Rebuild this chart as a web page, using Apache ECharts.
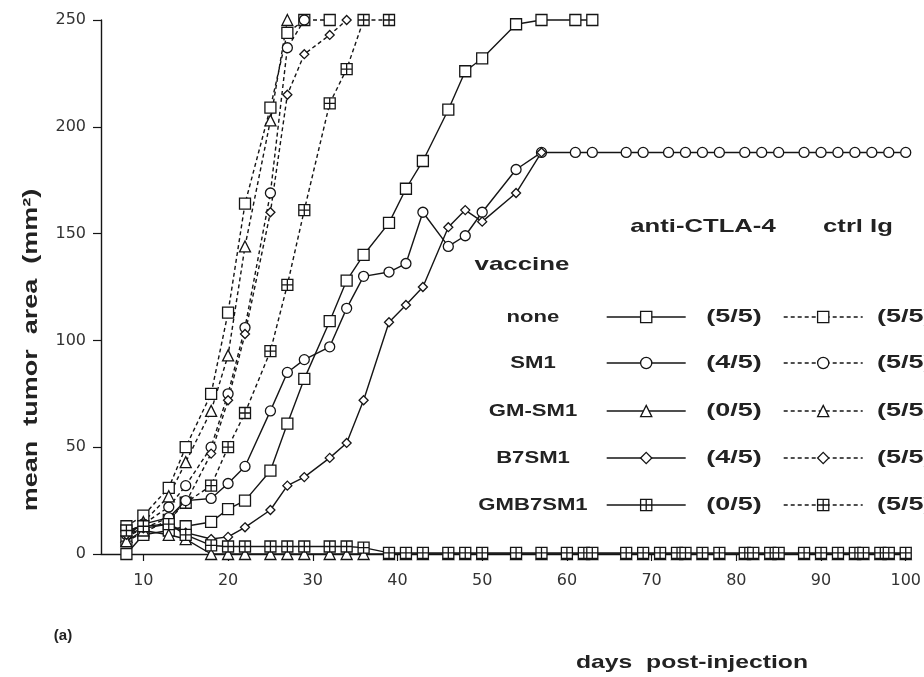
<!DOCTYPE html>
<html><head><meta charset="utf-8">
<script src="https://cdn.jsdelivr.net/npm/echarts@6/dist/echarts.min.js"></script>
<style>html,body{margin:0;padding:0;background:#fff}#c{width:924px;height:677px}</style>
</head><body><div id="c"></div>
<script>
// ---------- data ----------
const vaccines = ['none', 'SM1', 'GM-SM1', 'B7SM1', 'GMB7SM1'];
const antiFractions = ['(5/5)', '(4/5)', '(0/5)', '(4/5)', '(0/5)'];
const ctrlFractions = ['(5/5)', '(5/5)', '(5/5)', '(5/5)', '(5/5)'];
const xTickValues = [10, 20, 30, 40, 50, 60, 70, 80, 90, 100];

// ctrl Ig (dashed)
const ctrlNoneDays = [8, 10, 13, 15, 18, 20, 22, 25, 27, 29, 32];
const ctrlNoneVals = [13, 18, 31, 50, 75, 113, 164, 209, 244, 250, 250];
const ctrlSM1Days = [8, 10, 13, 15, 18, 20, 22, 25, 27, 29];
const ctrlSM1Vals = [10, 14, 22, 32, 50, 75, 106, 169, 237, 250];
const ctrlGMDays = [8, 10, 13, 15, 18, 20, 22, 25, 27];
const ctrlGMVals = [8, 15, 27, 43, 67, 93, 144, 203, 250];
const ctrlB7Days = [8, 10, 13, 15, 18, 20, 22, 25, 27, 29, 32, 34];
const ctrlB7Vals = [8, 12, 17, 24, 47, 72, 103, 160, 215, 234, 243, 250];
const ctrlGMB7Days = [8, 10, 13, 15, 18, 20, 22, 25, 27, 29, 32, 34, 36, 39];
const ctrlGMB7Vals = [6, 10, 16, 24, 32, 50, 66, 95, 126, 161, 211, 227, 250, 250];

// anti-CTLA-4 (solid)
const antiNoneDays = [8, 10, 13, 15, 18, 20, 22, 25, 27, 29, 32, 34, 36, 39, 41, 43, 46, 48, 50, 54, 57, 61, 63];
const antiNoneVals = [0, 9, 11, 13, 15, 21, 25, 39, 61, 82, 109, 128, 140, 155, 171, 184, 208, 226, 232, 248, 250, 250, 250];
const antiSM1Days = [8, 10, 13, 15, 18, 20, 22, 25, 27, 29, 32, 34, 36, 39, 41, 43, 46, 48, 50, 54, 57, 61, 63, 67, 69, 72, 74, 76, 78, 81, 83, 85, 88, 90, 92, 94, 96, 98, 100];
const antiSM1Vals = [9, 14, 17, 25, 26, 33, 41, 67, 85, 91, 97, 115, 130, 132, 136, 160, 144, 149, 160, 180, 188, 188, 188, 188, 188, 188, 188, 188, 188, 188, 188, 188, 188, 188, 188, 188, 188, 188, 188];
const antiGMDays = [8, 10, 13, 15, 18, 20, 22, 25, 27, 29, 32, 34, 36, 39, 41, 43, 46, 48, 50, 54, 57, 60, 62, 63, 67, 69, 71, 73, 74, 76, 78, 81, 82, 84, 85, 88, 90, 92, 94, 95, 97, 98, 100];
const antiGMVals = [6, 11, 9, 7, 0, 0, 0, 0, 0, 0, 0, 0, 0, 0, 0, 0, 0, 0, 0, 0, 0, 0, 0, 0, 0, 0, 0, 0, 0, 0, 0, 0, 0, 0, 0, 0, 0, 0, 0, 0, 0, 0, 0];
const antiB7Days = [8, 10, 13, 15, 18, 20, 22, 25, 27, 29, 32, 34, 36, 39, 41, 43, 46, 48, 50, 54, 57];
const antiB7Vals = [9, 12, 14, 10, 7, 8, 12.5, 20.6, 32, 36, 45, 52, 72, 108.5, 116.6, 125, 153, 161, 155.6, 169, 188];
const antiGMB7Days = [8, 10, 13, 15, 18, 20, 22, 25, 27, 29, 32, 34, 36, 39, 41, 43, 46, 48, 50, 54, 57, 60, 62, 63, 67, 69, 71, 73, 74, 76, 78, 81, 82, 84, 85, 88, 90, 92, 94, 95, 97, 98, 100];
const antiGMB7Vals = [11, 13, 14, 9, 4, 3.5, 3.5, 3.5, 3.5, 3.5, 3.5, 3.5, 3, 0.5, 0.5, 0.5, 0.5, 0.5, 0.5, 0.5, 0.5, 0.5, 0.5, 0.5, 0.5, 0.5, 0.5, 0.5, 0.5, 0.5, 0.5, 0.5, 0.5, 0.5, 0.5, 0.5, 0.5, 0.5, 0.5, 0.5, 0.5, 0.5, 0.5];

// ---------- build ----------
const zip = (d, v) => d.map((x, i) => [x, v[i]]);
const GRID_SYM = 'path://M0,0H10V10H0Z M5,0V10 M0,5H10';
const symbols = ['rect', 'circle', 'triangle', 'diamond', GRID_SYM];
const symSizes = [11, 10, 11, 9, 11];
const INK = '#151515';
const DASH = [4, 3];

const antiData = [zip(antiNoneDays, antiNoneVals), zip(antiSM1Days, antiSM1Vals), zip(antiGMDays, antiGMVals), zip(antiB7Days, antiB7Vals), zip(antiGMB7Days, antiGMB7Vals)];
const ctrlData = [zip(ctrlNoneDays, ctrlNoneVals), zip(ctrlSM1Days, ctrlSM1Vals), zip(ctrlGMDays, ctrlGMVals), zip(ctrlB7Days, ctrlB7Vals), zip(ctrlGMB7Days, ctrlGMB7Vals)];

const series = [];
const legends = [];
const rowY = [317, 363, 411, 458, 505];
const graphics = [];
const boldFont = (s) => 'bold ' + s + 'px "Liberation Sans", Arial, sans-serif';

vaccines.forEach((v, i) => {
  [['anti-CTLA-4', antiData[i], 'solid', 606, antiFractions[i], 734, 'center'],
   ['ctrl Ig', ctrlData[i], DASH, 783, ctrlFractions[i], 877, 'left']].forEach(([grp, data, type, lx, frac, fx, fa]) => {
    const name = v + ' / ' + grp;
    series.push({
      name, type: 'line', data, clip: false,
      symbol: symbols[i], symbolSize: symSizes[i], showAllSymbol: true,
      lineStyle: { color: INK, width: 1.4, type },
      itemStyle: { color: '#fff', borderColor: INK, borderWidth: 1.3 },
      z: type === 'solid' ? 3 : 2
    });
    legends.push({
      data: [name], left: lx, top: rowY[i] - 7, padding: 0,
      itemWidth: 79, itemHeight: 14, selectedMode: false,
      formatter: () => '',
      lineStyle: { color: INK, width: 1.4, type },
      itemStyle: { color: '#fff', borderColor: INK, borderWidth: 1.3 }
    });
    graphics.push({ type: 'text', x: fx, y: rowY[i], scaleX: 1.5,
      style: { text: frac, font: boldFont(18), fill: '#222', textAlign: fa, textVerticalAlign: 'middle' } });
  });
  graphics.push({ type: 'text', x: 533, y: rowY[i], scaleX: 1.3,
    style: { text: v, font: boldFont(17), fill: '#222', textAlign: 'center', textVerticalAlign: 'middle' } });
});

graphics.push(
  { type: 'text', x: 703, y: 227, scaleX: 1.35, style: { text: 'anti-CTLA-4', font: boldFont(19), fill: '#222', textAlign: 'center', textVerticalAlign: 'middle' } },
  { type: 'text', x: 858, y: 227, scaleX: 1.35, style: { text: 'ctrl Ig', font: boldFont(19), fill: '#222', textAlign: 'center', textVerticalAlign: 'middle' } },
  { type: 'text', x: 522, y: 265, scaleX: 1.36, style: { text: 'vaccine', font: boldFont(19), fill: '#222', textAlign: 'center', textVerticalAlign: 'middle' } },
  { type: 'text', x: 692, y: 663, scaleX: 1.3, style: { text: 'days  post-injection', font: boldFont(19), fill: '#222', textAlign: 'center', textVerticalAlign: 'middle' } },
  { type: 'text', x: 63, y: 636, style: { text: '(a)', font: boldFont(15), fill: '#222', textAlign: 'center', textVerticalAlign: 'middle' } },
  { type: 'text', x: 31, y: 350, rotation: Math.PI / 2, scaleX: 1.35, style: { text: 'mean  tumor  area  (mm²)', font: boldFont(20), fill: '#222', textAlign: 'center', textVerticalAlign: 'middle' } }
);

const chart = echarts.init(document.getElementById('c'), null, { renderer: 'canvas' });
chart.setOption({
  animation: false,
  backgroundColor: '#fff',
  grid: { left: 101, right: 14, top: 20, bottom: 123 },
  xAxis: {
    type: 'value', min: 5, max: 100,
    axisLine: { onZero: false, lineStyle: { color: INK, width: 1.4 } },
    axisTick: { customValues: xTickValues, length: 7, lineStyle: { color: INK, width: 1.2 } },
    axisLabel: { customValues: xTickValues, margin: 19, color: '#333', fontSize: 16, fontFamily: '"DejaVu Sans", sans-serif' },
    splitLine: { show: false }
  },
  yAxis: {
    type: 'value', min: 0, max: 250, interval: 50,
    axisLine: { show: true, lineStyle: { color: INK, width: 1.4 } },
    axisTick: { show: true, length: 8, lineStyle: { color: INK, width: 1.2 } },
    axisLabel: { margin: 15, color: '#333', fontSize: 16, fontFamily: '"DejaVu Sans", sans-serif' },
    splitLine: { show: false }
  },
  legend: legends,
  series,
  graphic: { elements: graphics }
});
</script>
</body></html>
